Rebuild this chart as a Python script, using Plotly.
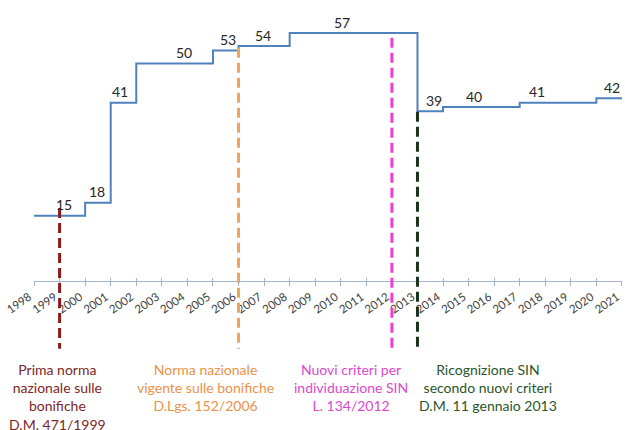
import plotly.graph_objects as go

years = list(range(1998, 2022))
sin_count = [15, 15, 18, 41, 50, 50, 50, 53, 54, 54, 57, 57, 57, 57, 57,
             39, 40, 40, 40, 41, 41, 41, 42, 42]

# label placement offsets (years after each step change)
label_offsets = [1.17, 0.46, 0.36, 1.87, 0.59, 0.96, 2.05, 0.64, 1.21, 0.67, 0.60]

event_years = [1999, 2006, 2012, 2013]
event_texts = [
    "Prima norma<br>nazionale sulle<br>bonifiche<br>D.M. 471/1999",
    "Norma nazionale<br>vigente sulle bonifiche<br>D.Lgs. 152/2006",
    "Nuovi criteri per<br>individuazione SIN<br>L. 134/2012",
    "Ricognizione SIN<br>secondo nuovi criteri<br>D.M. 11 gennaio 2013",
]
event_text_x = [1998.93, 2004.69, 2010.4, 2015.75]
event_line_colors = ["#8b1a1a", "#f2a35a", "#f03fcf", "#1a331a"]
event_text_colors = ["#7d2626", "#ea9248", "#dc48cc", "#2a552a"]
event_tops = [16.8, 53.6, 55.9, 38.9]

YMAX = 60
FONT = "Lato"
XR = [1997.999, 2021.001]

fig = go.Figure()
fig.add_trace(go.Scatter(
    x=years, y=sin_count, mode="lines", line=dict(shape="hv", color="#4f81bd", width=2),
    hoverinfo="skip", showlegend=False))
fig.add_trace(go.Scatter(
    x=[years[0], years[-1]], y=[0, 0], xaxis="x2", mode="lines",
    line=dict(width=0), opacity=0, showlegend=False, hoverinfo="skip"))

# value labels at each change point
changes = [i for i in range(len(years)) if i == 0 or sin_count[i] != sin_count[i - 1]]
for i, off in zip(changes, label_offsets):
    fig.add_annotation(x=years[i] + off, y=sin_count[i], text=str(sin_count[i]),
                       showarrow=False, yshift=11, yanchor="middle",
                       font=dict(family=FONT, size=14, color="#262626"))

for yr, top, col in zip(event_years, event_tops, event_line_colors):
    fig.add_shape(type="line", xref="x", yref="paper", x0=yr, x1=yr,
                  y0=top / YMAX, y1=-0.26, line=dict(color=col, width=3, dash="10px,5px"))

for tx, txt, col in zip(event_text_x, event_texts, event_text_colors):
    fig.add_annotation(x=tx, xref="x", y=-0.297, yref="paper", yanchor="top",
                       text=txt, showarrow=False, align="center",
                       font=dict(family=FONT, size=14, color=col))

fig.update_layout(
    width=625, height=430,
    margin=dict(l=34, r=3, t=20, b=149),
    paper_bgcolor="white", plot_bgcolor="white",
    xaxis=dict(range=XR, tickvals=years, ticktext=[str(y) for y in years],
               tickangle=-35, ticks="outside", ticklen=4, tickcolor="#a3b5cf",
               ticklabelshift=-5,
               showline=True, linecolor="#a3b5cf", linewidth=1, showgrid=False,
               zeroline=False, tickfont=dict(family=FONT, size=11.5, color="#404040")),
    xaxis2=dict(range=XR, overlaying="x", anchor="y", side="bottom",
                tickvals=years, ticks="inside", ticklen=3, tickcolor="#a3b5cf",
                showticklabels=False, showline=False, showgrid=False, zeroline=False),
    yaxis=dict(range=[0, YMAX], visible=False, showgrid=False, zeroline=False),
)

fig.write_html("out.html", config={"displayModeBar": False},
               post_script="document.body.style.margin='0';")
